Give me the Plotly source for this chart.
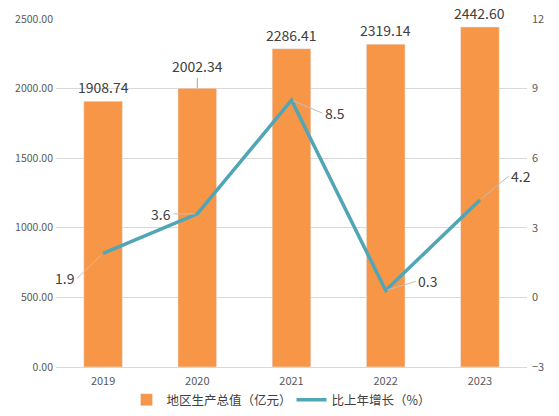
import plotly.graph_objects as go

years = ["2019", "2020", "2021", "2022", "2023"]
gdp = [1908.74, 2002.34, 2286.41, 2319.14, 2442.60]
growth = [1.9, 3.6, 8.5, 0.3, 4.2]

gdp_name = "地区生产总值（亿元）"
growth_name = "比上年增长（%）"

BAR = "#F79646"
LINE = "#50A5B6"
FONT = "Noto Sans CJK SC, Noto Sans, sans-serif"

# label offsets (pixels), anchor, and whether a leader line is drawn
bar_off = [(0, -14, False), (0, -22, True), (0, -14, False), (0, -14, False), (0, -14, False)]
line_off = [(-26, 25, "right"), (-24, 0, "right"), (31, 13, "left"),
            (30, -9, "left"), (29, -24, "left")]

fig = go.Figure()
fig.add_trace(go.Bar(x=years, y=gdp, name=gdp_name, marker_color=BAR))
fig.add_trace(go.Scatter(x=years, y=growth, name=growth_name, mode="lines",
                         line=dict(color=LINE, width=3.5), yaxis="y2"))

# category axis: annotations use the category's serial number
for i, (v, (ax, ay, lead)) in enumerate(zip(gdp, bar_off)):
    fig.add_annotation(x=i, y=v, xref="x", yref="y", text=f"{v:.2f}",
                       showarrow=True, ax=ax, ay=ay, arrowhead=0, arrowwidth=1,
                       arrowcolor="#A6A6A6" if lead else "rgba(0,0,0,0)",
                       standoff=0, font=dict(size=14, color="#404040", family=FONT))

for i, (v, (ax, ay, anchor)) in enumerate(zip(growth, line_off)):
    fig.add_annotation(x=i, y=v, xref="x", yref="y2", text=f"{v}",
                       showarrow=True, ax=ax, ay=ay, xanchor=anchor, arrowhead=0,
                       arrowwidth=1, arrowcolor="#BFBFBF", standoff=2,
                       font=dict(size=14, color="#404040", family=FONT))

# page has an 8px body margin, so the figure is a bit smaller than the window
fig.update_layout(
    width=551, height=408,
    margin=dict(l=48, r=32, t=11, b=49, autoexpand=False),
    paper_bgcolor="white", plot_bgcolor="white",
    font=dict(family=FONT, color="#595959", size=11),
    bargap=0.59,
    legend=dict(orientation="h", x=0.5, xanchor="center", y=-0.095, yanchor="middle",
                font=dict(size=12.5, color="#404040"), entrywidth=120,
                bgcolor="rgba(0,0,0,0)"),
    xaxis=dict(type="category", range=[-0.5, 4.5], showgrid=False, showline=True,
               linecolor="#D9D9D9", ticks="", automargin=False, ticklabelstandoff=4),
    yaxis=dict(range=[0, 2500], dtick=500, tickformat=".2f", showgrid=True,
               gridcolor="#D9D9D9", zeroline=False, ticks="", showline=False,
               automargin=False, ticklabelstandoff=2, tickfont=dict(size=10.5)),
    yaxis2=dict(range=[-3, 12], dtick=3, overlaying="y", side="right", showgrid=False,
                zeroline=False, ticks="", showline=False, automargin=False,
                ticklabelstandoff=4),
)

fig.write_html("out.html")
